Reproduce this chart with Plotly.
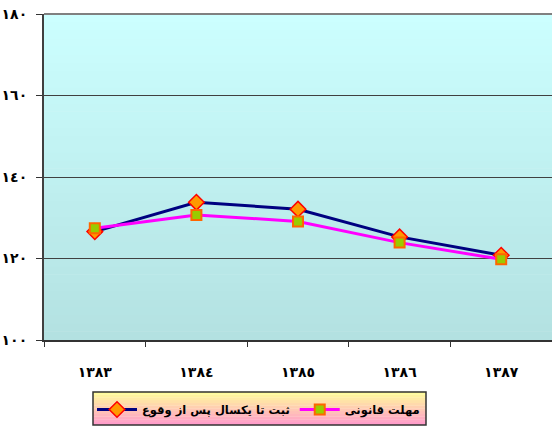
import plotly.graph_objects as go

categories = ["١٣٨٣", "١٣٨٤", "١٣٨٥", "١٣٨٦", "١٣٨٧"]
series_navy_name = "ثبت تا یکسال پس از وقوع"
series_navy = [126.6, 133.8, 132.1, 125.3, 120.8]
series_magenta_name = "مهلت قانونی"
series_magenta = [127.4, 130.7, 129.1, 123.9, 119.8]
y_tickvals = [100, 120, 140, 160, 180]
y_ticktext = ["١٠٠", "١٢٠", "١٤٠", "١٦٠", "١٨٠"]

FONT = "DejaVu Sans"
W, H = 552, 427
L, T, R, B = 44, 14, 0, 87
PW, PH = W - L - R, H - T - B

fig = go.Figure()
fig.add_trace(go.Scatter(
    x=categories, y=series_navy, name=series_navy_name, mode="lines+markers",
    line=dict(color="#000080", width=3),
    marker=dict(symbol="diamond", size=12, color="#FF9900",
                line=dict(color="#FF0000", width=1.5)),
))
fig.add_trace(go.Scatter(
    x=categories, y=series_magenta, name=series_magenta_name, mode="lines+markers",
    line=dict(color="#FF00FF", width=3),
    marker=dict(symbol="square", size=10, color="#99CC00",
                line=dict(color="#FF6600", width=2)),
))

# gradient plot background
shapes = []
N = 40
c0 = (0xB3, 0xE1, 0xE1)
c1 = (0xCC, 0xFF, 0xFF)
for i in range(N):
    t = (i + 0.5) / N
    c = tuple(round(a + (b - a) * t) for a, b in zip(c0, c1))
    shapes.append(dict(type="rect", xref="x domain", yref="y domain",
                       x0=0, x1=1, y0=i / N, y1=(i + 1) / N + 0.002,
                       fillcolor="rgb(%d,%d,%d)" % c, line=dict(width=0),
                       layer="below"))
# top border
shapes.append(dict(type="line", xref="x domain", yref="y domain",
                   x0=0, x1=1, y0=1, y1=1, line=dict(color="#808080", width=2),
                   layer="above"))

def px_x(x):
    return (x - L) / PW
def px_y(y):
    return (H - B - y) / PH

# legend gradient background
lx0, lx1 = px_x(93), px_x(426)
ly1, ly0 = px_y(392), px_y(425)
M = 12
g0 = (0xFF, 0x99, 0xCC)
g1 = (0xFF, 0xFF, 0x99)
for i in range(M):
    t = (i + 0.5) / M
    c = tuple(round(a + (b - a) * t) for a, b in zip(g0, g1))
    shapes.append(dict(type="rect", xref="paper", yref="paper",
                       x0=lx0, x1=lx1, y0=ly0 + (ly1 - ly0) * i / M,
                       y1=ly0 + (ly1 - ly0) * (i + 1) / M + 0.001,
                       fillcolor="rgb(%d,%d,%d)" % c, line=dict(width=0),
                       layer="above"))
shapes.append(dict(type="rect", xref="paper", yref="paper",
                   x0=lx0, x1=lx1, y0=ly0, y1=ly1,
                   fillcolor="rgba(0,0,0,0)", line=dict(color="#333333", width=1.5),
                   layer="above"))

fig.update_layout(
    width=W, height=H,
    margin=dict(l=L, r=R, t=T, b=B, autoexpand=False),
    paper_bgcolor="white",
    plot_bgcolor="rgba(0,0,0,0)",
    shapes=shapes,
    showlegend=True,
    legend=dict(orientation="h", x=px_x(92), xanchor="left", y=px_y(395), yanchor="top",
                bgcolor="rgba(0,0,0,0)", borderwidth=0,
                font=dict(family=FONT, size=11.5, color="black", weight="bold"),
                traceorder="normal", itemwidth=40),
    xaxis=dict(
        type="category", range=[-0.5, 4.5], tickson="boundaries",
        ticks="outside", ticklen=5, tickcolor="#333333",
        showline=True, linecolor="#333333", linewidth=2,
        showgrid=False, zeroline=False, automargin=False,
        ticklabelstandoff=18,
        tickfont=dict(family=FONT, size=14, color="black", weight="bold"),
    ),
    yaxis=dict(
        range=[100, 180], tickvals=y_tickvals, ticktext=y_ticktext,
        ticks="outside", ticklen=6, tickcolor="#333333",
        showline=True, linecolor="#404040", linewidth=2,
        showgrid=True, gridcolor="#404040", gridwidth=1,
        zeroline=False, ticklabelstandoff=6, automargin=False,
        tickfont=dict(family=FONT, size=14, color="black", weight="bold"),
    ),
)

fig.write_html("out.html", config={"displayModeBar": False},
               post_script="document.body.style.margin='0';")
